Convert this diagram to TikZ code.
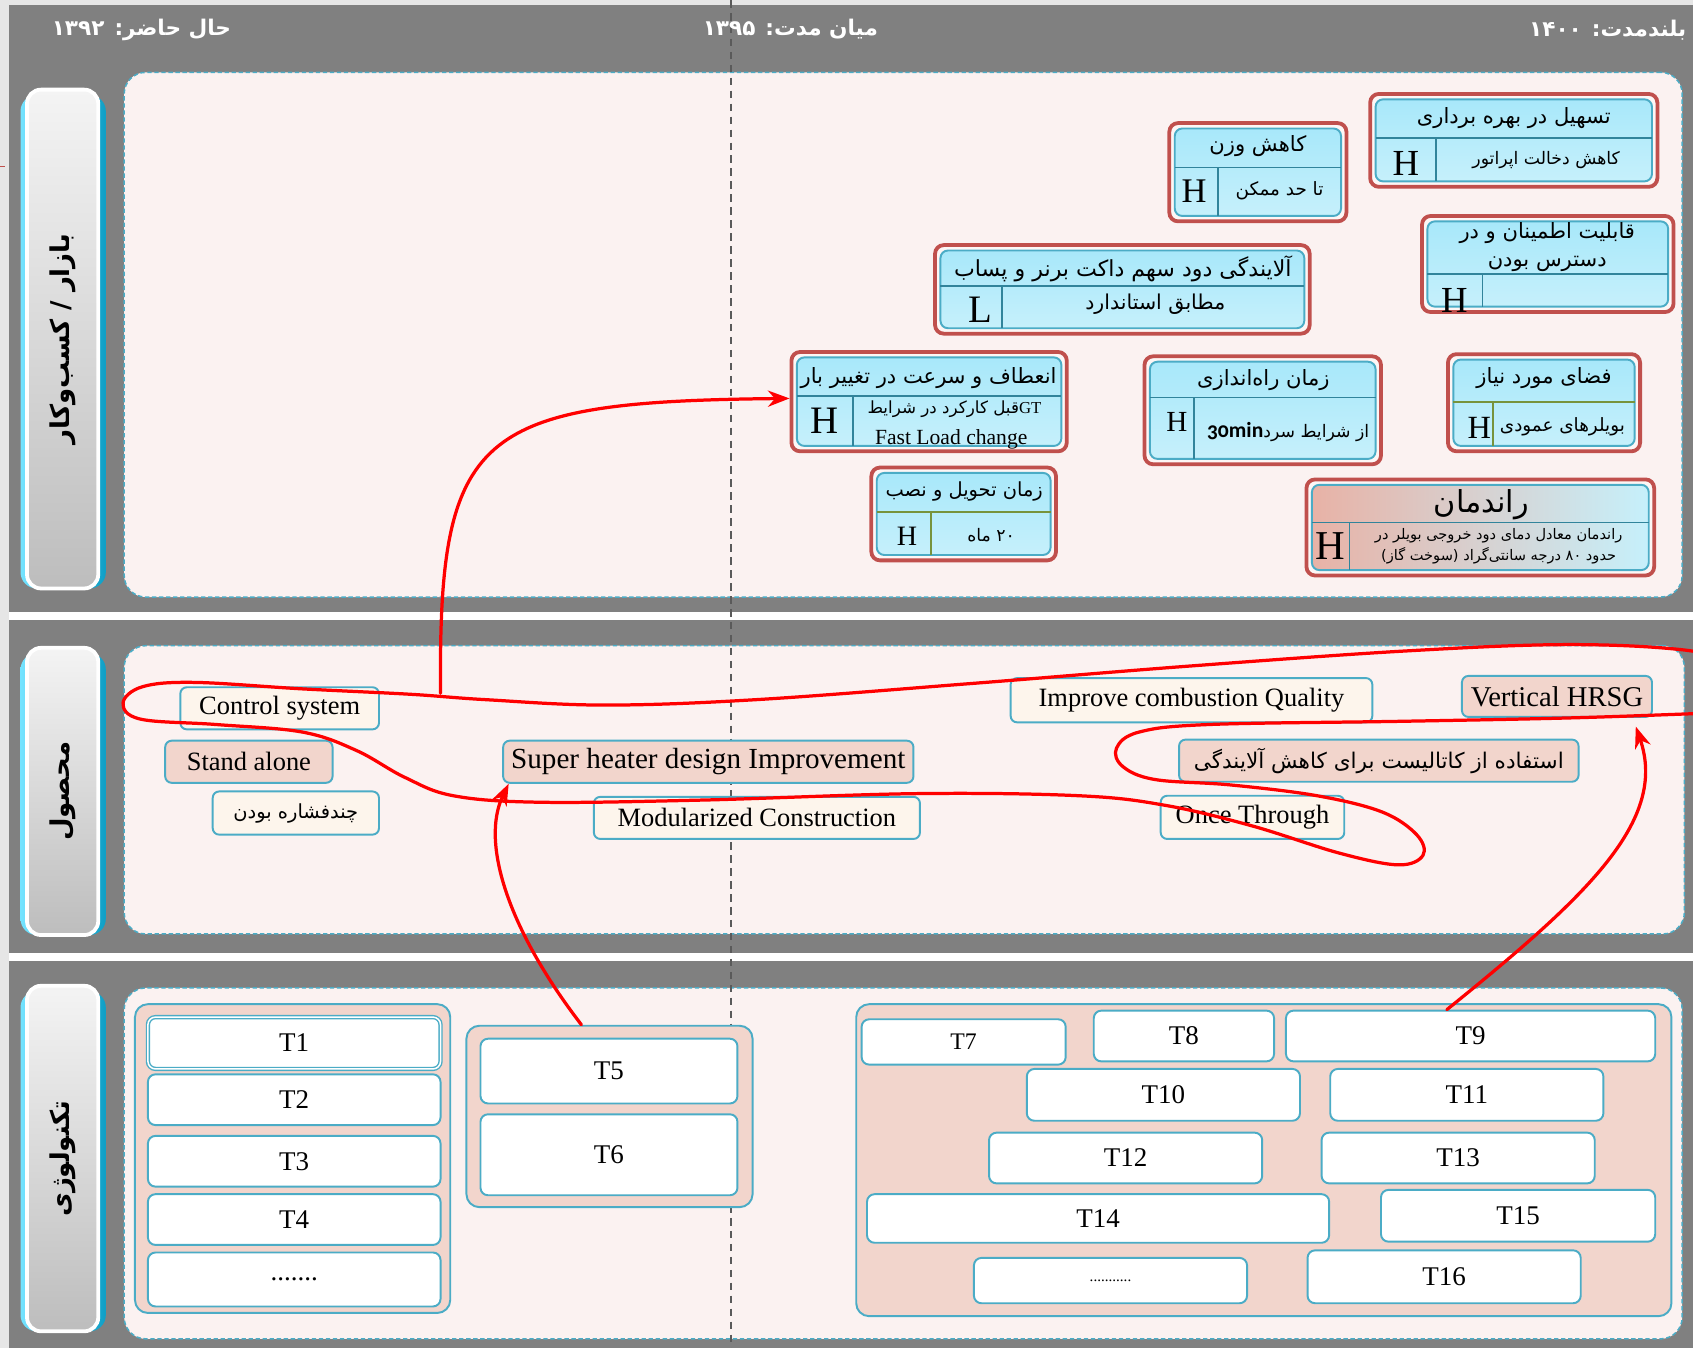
\documentclass[tikz,border=0pt]{standalone}
\usepackage{fontspec}
\usetikzlibrary{fit,arrows.meta}
\setmainfont{Liberation Serif}
\newfontfamily\fa[Script=Arabic]{DejaVu Sans}
\newfontfamily\nums[Numbers=OldStyle]{Carlito}
\TeXXeTstate=1

\definecolor{outerGray}{HTML}{E6E6E6}
\definecolor{laneGray}{HTML}{808080}
\definecolor{panelPink}{HTML}{FBF2F1}
\definecolor{dashBlue}{HTML}{4BACC6}
\definecolor{lineGray}{HTML}{5A5A5A}
\definecolor{tabCyanL}{HTML}{74E3FF}
\definecolor{tabCyanR}{HTML}{0E9FC6}
\definecolor{tabTop}{HTML}{F4F4F4}
\definecolor{tabBot}{HTML}{BDBDBD}
\definecolor{frameRed}{HTML}{C0504D}
\definecolor{frameFill}{HTML}{FDF6F5}
\definecolor{boxBlue}{HTML}{4BACC6}
\definecolor{cyanTop}{HTML}{A8E8FA}
\definecolor{cyanBot}{HTML}{C6F0FB}
\definecolor{divTeal}{HTML}{31849B}
\definecolor{divOlive}{HTML}{77933C}
\definecolor{effPink}{HTML}{E8B2A6}
\definecolor{creamFill}{HTML}{FDF5EC}
\definecolor{blushFill}{HTML}{F2D5CC}

\newcommand\rtl[1]{\beginR #1\endR}
\newcommand\fs[2]{\fontsize{#1}{#2}\selectfont}

% market card: red frame, cyan body, header row and grade cell
% #1 name, #2-#5 body corners, #6 header split y, #7 grade split x, #8 divider style, #9 extra body style
\newcommand\mktcard[9]{%
  \node[redframe, fit={(#2,#3) (#4,#5)}] (#1) {};
  \node[cyanbox, #9, fit={(#2,#3) (#4,#5)}] (#1-in) {};
  \draw[#8] (#2,#6) -- (#4,#6);
  \draw[#8] (#7,#6) -- (#7,#5);
}

\begin{document}
\begin{tikzpicture}[x=1pt,y=-1pt,
  panel/.style={fill=panelPink, draw=dashBlue, line width=1.4pt, dash pattern=on 4pt off 2.5pt, rounded corners=20pt, inner sep=0pt},
  timeline/.style={draw=lineGray, line width=1.3pt, dash pattern=on 7pt off 5pt},
  tabshade/.style={left color=tabCyanL, right color=tabCyanR, rounded corners=15pt},
  tabbox/.style={draw=white, line width=3.5pt, top color=tabTop, bottom color=tabBot, rounded corners=13pt, inner sep=0pt},
  tabtext/.style={rotate=90, font=\fa\bfseries\fs{24}{28}, inner sep=0pt},
  period/.style={font=\fa\bfseries\fs{20}{24}, text=white, inner sep=0pt},
  redframe/.style={draw=frameRed, line width=3.5pt, fill=frameFill, rounded corners=8pt, inner sep=5pt},
  cyanbox/.style={draw=boxBlue, line width=1.8pt, top color=cyanTop, bottom color=cyanBot, rounded corners=7pt, inner sep=0pt},
  divteal/.style={draw=divTeal, line width=1.5pt},
  divolive/.style={draw=divOlive, line width=1.8pt},
  cardhead/.style={font=\fa\fs{19.5}{26}, inner sep=0pt, align=center},
  carddesc/.style={font=\fa\fs{16}{20}, inner sep=0pt, align=center},
  grade/.style={font=\fs{32}{32}, inner sep=0pt},
  prod/.style={draw=boxBlue, line width=1.8pt, rounded corners=6pt, inner sep=0pt, font=\fs{24.5}{28}},
  cream/.style={prod, fill=creamFill},
  blush/.style={prod, fill=blushFill},
  techgroup/.style={draw=boxBlue, line width=1.8pt, fill=blushFill, rounded corners=12pt, inner sep=0pt},
  tbox/.style={draw=boxBlue, line width=1.8pt, fill=white, rounded corners=7pt, inner sep=0pt, font=\fs{25}{28}},
  trail/.style={draw=red, line width=3pt, line cap=round, line join=round},
  lead/.style={trail, -{Stealth[length=20pt,width=15pt]}},
]
\useasboundingbox (0,0) rectangle (1568,1248);

% lanes
\fill[outerGray] (0,0) rectangle (1568,1248);
\fill[laneGray] (8,5) rectangle (1568,567);
\fill[white] (8,567) rectangle (1568,574);
\fill[laneGray] (8,574) rectangle (1568,883);
\fill[white] (8,883) rectangle (1568,890);
\fill[laneGray] (8,890) rectangle (1568,1248);
\draw[frameRed, line width=1pt] (0,154) -- (5,154);

% lane panels
\node[panel, fit={(115,67) (1558,553)}] (mktpanel) {};
\node[panel, fit={(115,598) (1560,865)}] (prodpanel) {};
\node[panel, fit={(115,915) (1558,1240)}] (techpanel) {};

% mid-term divider
\draw[timeline] (677,0) -- (677,1248);

% period headings
\node[period] (now) at (131,28) {\rtl{حال حاضر: ۱۳۹۲}};
\node[period] (mid) at (732,27) {\rtl{میان مدت: ۱۳۹۵}};
\node[period, anchor=east] (long) at (1562,28) {\rtl{بلندمدت: ۱۴۰۰}};

% lane tabs
\path[tabshade] (19,88) rectangle (98,545);
\node[tabbox, fit={(25,83) (91,545)}] (mkttab) {};
\node[tabtext] (mkttab-t) at (mkttab.center) {\rtl{بازار / کسب‌وکار}};
\path[tabshade] (19,605) rectangle (98,866);
\node[tabbox, fit={(25,600) (91,866)}] (prodtab) {};
\node[tabtext] (prodtab-t) at (prodtab.center) {\rtl{محصول}};
\path[tabshade] (19,918) rectangle (98,1233);
\node[tabbox, fit={(25,913) (91,1233)}] (techtab) {};
\node[tabtext] (techtab-t) at (techtab.center) {\rtl{تکنولوژی}};

% market cards
\mktcard{kw}{1088}{119}{1242}{200}{155}{1128}{divteal}{}
\node[cardhead] (kw-h) at (1165,135) {\rtl{کاهش وزن}};
\node[grade] (kw-g) at (1106,177) {H};
\node[carddesc, font=\fa\fs{17}{20}] (kw-d) at (1185,177) {\rtl{تا حد ممکن}};

\mktcard{ease}{1274}{92}{1530}{168}{128}{1330}{divteal}{}
\node[cardhead] (ease-h) at (1402,109) {\rtl{تسهیل در بهره برداری}};
\node[grade, font=\fs{34}{34}] (ease-g) at (1302,151) {H};
\node[carddesc] (ease-d) at (1432,148) {\rtl{کاهش دخالت اپراتور}};

\mktcard{rel}{1322}{205}{1545}{284}{254}{1373}{divteal}{}
\node[cardhead] (rel-h) at (1433,229) {\rtl{قابلیت اطمینان و در}\\\rtl{دسترس بودن}};
\node[grade, font=\fs{34}{34}] (rel-g) at (1347,278) {H};

\mktcard{emis}{871}{232}{1208}{304}{265}{928}{divteal}{}
\node[cardhead, font=\fa\fs{20.5}{26}] (emis-h) at (1040,249) {\rtl{آلایندگی دود سهم داکت برنر و پساب}};
\node[grade, font=\fs{36}{36}] (emis-g) at (908,287) {L};
\node[carddesc, font=\fa\fs{19}{22}] (emis-d) at (1070,282) {\rtl{مطابق استاندارد}};

\mktcard{flex}{738}{331}{983}{413}{367}{790}{divteal}{}
\node[cardhead] (flex-h) at (860,350) {\rtl{انعطاف و سرعت در تغییر بار}};
\node[grade, font=\fs{36}{36}] (flex-g) at (764,390) {H};
\node[carddesc, font=\fa\fs{15.5}{19}] (flex-d) at (884,379) {\rtl{\beginL{\rmfamily GT}\endL قبل کارکرد در شرایط}};
\node[inner sep=0pt, font=\fs{20}{22}] (flex-e) at (881,407) {Fast Load change};

\mktcard{start}{1065}{335}{1274}{425}{368}{1106}{divteal}{}
\node[cardhead] (start-h) at (1170,352) {\rtl{زمان راه‌اندازی}};
\node[grade, font=\fs{27}{27}] (start-g) at (1090,391) {H};
\node[carddesc] (start-d) at (1193,400) {\rtl{از شرایط سرد\beginL{\nums\bfseries\fs{20}{22}30min}\endL}};

\mktcard{space}{1346}{333}{1514}{413}{372}{1383}{divolive}{}
\node[cardhead] (space-h) at (1430,350) {\rtl{فضای مورد نیاز}};
\node[grade, font=\fs{30}{30}] (space-g) at (1370,396) {H};
\node[carddesc, font=\fa\fs{17}{20}] (space-d) at (1447,395) {\rtl{بویلرهای عمودی}};

\mktcard{deliv}{812}{438}{973}{514}{474}{862}{divolive}{}
\node[cardhead, font=\fa\fs{18}{22}] (deliv-h) at (893,455) {\rtl{زمان تحویل و نصب}};
\node[grade, font=\fs{26}{26}] (deliv-g) at (840,497) {H};
\node[carddesc] (deliv-d) at (918,496) {\rtl{۲۰ ماه}};

\mktcard{eff}{1215}{449}{1527}{528}{484}{1250}{divteal}{left color=effPink, right color=cyanBot}
\node[cardhead, font=\fa\fs{28}{32}] (eff-h) at (1372,467) {\rtl{راندمان}};
\node[grade, font=\fs{38}{38}] (eff-g) at (1232,506) {H};
\node[carddesc, font=\fa\fs{13.5}{20}] (eff-d) at (1388,506) {\rtl{راندمان معادل دمای دود خروجی بویلر در}\\\rtl{حدود ۸۰ درجه سانتی‌گراد (سوخت گاز)}};

% products
\node[cream, minimum width=184pt, minimum height=39pt] (ctrl) at (259,656) {Control system};
\node[blush, minimum width=155pt, minimum height=39pt] (stand) at (230.5,705.5) {Stand alone};
\node[cream, minimum width=154pt, minimum height=40pt, font=\fa\fs{18}{22}] (multi) at (274,753) {\rtl{چندفشاره بودن}};
\node[blush, minimum width=380pt, minimum height=39pt, font=\fs{27}{30}] (super) at (656,705.5) {Super heater design Improvement};
\node[cream, minimum width=302pt, minimum height=39pt] (modular) at (701,757.5) {Modularized Construction};
\node[cream, minimum width=335pt, minimum height=41pt] (combust) at (1103.5,648.5) {Improve combustion Quality};
\node[blush, minimum width=176pt, minimum height=38pt, font=\fs{26.5}{30}] (vert) at (1442,645) {Vertical HRSG};
\node[blush, minimum width=370pt, minimum height=39pt, font=\fa\fs{20}{24}] (catal) at (1277,704.5) {\rtl{استفاده از کاتالیست برای کاهش آلایندگی}};
\node[cream, minimum width=170pt, minimum height=40pt] (once) at (1160,757) {Once Through};

% technology groups
\node[techgroup, fit={(125,930) (417,1216)}] (grp1) {};
\node[techgroup, fit={(432,950) (697,1118)}] (grp2) {};
\node[techgroup, fit={(793,930) (1548,1219)}] (grp3) {};

\node[tbox, double=white, double distance=1.4pt, line width=1.3pt, minimum width=271pt, minimum height=48pt] (t1) at (272.5,966) {T1};
\node[tbox, minimum width=271pt, minimum height=47pt] (t2) at (272.5,1018.5) {T2};
\node[tbox, minimum width=271pt, minimum height=47pt] (t3) at (272.5,1075.5) {T3};
\node[tbox, minimum width=271pt, minimum height=47pt] (t4) at (272.5,1129.5) {T4};
\node[tbox, minimum width=271pt, minimum height=50pt] (tdots1) at (272.5,1185) {.......};

\node[tbox, minimum width=238pt, minimum height=60pt] (t5) at (564,992) {T5};
\node[tbox, minimum width=238pt, minimum height=75pt] (t6) at (564,1069.5) {T6};

\node[tbox, minimum width=189pt, minimum height=42pt, font=\fs{22}{26}] (t7) at (892.5,965) {T7};
\node[tbox, minimum width=167pt, minimum height=47pt] (t8) at (1096.5,959.5) {T8};
\node[tbox, minimum width=342pt, minimum height=47pt] (t9) at (1362,959.5) {T9};
\node[tbox, minimum width=253pt, minimum height=48pt] (t10) at (1077.5,1014) {T10};
\node[tbox, minimum width=253pt, minimum height=48pt] (t11) at (1358.5,1014) {T11};
\node[tbox, minimum width=253pt, minimum height=47pt] (t12) at (1042.5,1072.5) {T12};
\node[tbox, minimum width=253pt, minimum height=47pt] (t13) at (1350.5,1072.5) {T13};
\node[tbox, minimum width=428pt, minimum height=45pt] (t14) at (1017,1128.5) {T14};
\node[tbox, minimum width=254pt, minimum height=48pt] (t15) at (1406,1126) {T15};
\node[tbox, minimum width=253pt, minimum height=42pt, font=\fs{14}{16}] (tdots2) at (1028.5,1186) {...........};
\node[tbox, minimum width=253pt, minimum height=49pt] (t16) at (1337.5,1182.5) {T16};

% red links
\begin{scope}
\clip (0,0) rectangle (1568,1248);
\draw[trail] plot[smooth, tension=0.6] coordinates {
  (1620,616) (1560,602) (1450,597) (1300,603) (1100,617) (900,633) (700,648)
  (560,653) (450,648) (380,643) (280,638) (180,632) (132,636) (114,651)
  (130,666) (200,671) (280,678) (330,695) (375,720) (420,737) (500,743)
  (650,741) (850,735) (1000,737) (1080,746) (1160,765) (1240,790) (1295,801)
  (1318,792) (1312,773) (1280,752) (1220,737) (1140,727) (1070,722) (1040,710)
  (1034,693) (1055,678) (1120,671) (1300,668) (1450,665) (1568,661) (1620,659)};
\end{scope}
\coordinate (loopA) at (408,642);
\draw[lead] (loopA) .. controls (406,400) and (440,372) .. ([yshift=3pt]flex.west);
\draw[lead] ([xshift=-26pt]grp2.north) .. controls (470,860) and (445,780) .. ([xshift=6pt]super.south west);
\draw[lead] ([xshift=-22pt]t9.north) .. controls (1470,830) and (1545,760) .. ([xshift=73pt,yshift=-8pt]vert.south);
\end{tikzpicture}
\end{document}
